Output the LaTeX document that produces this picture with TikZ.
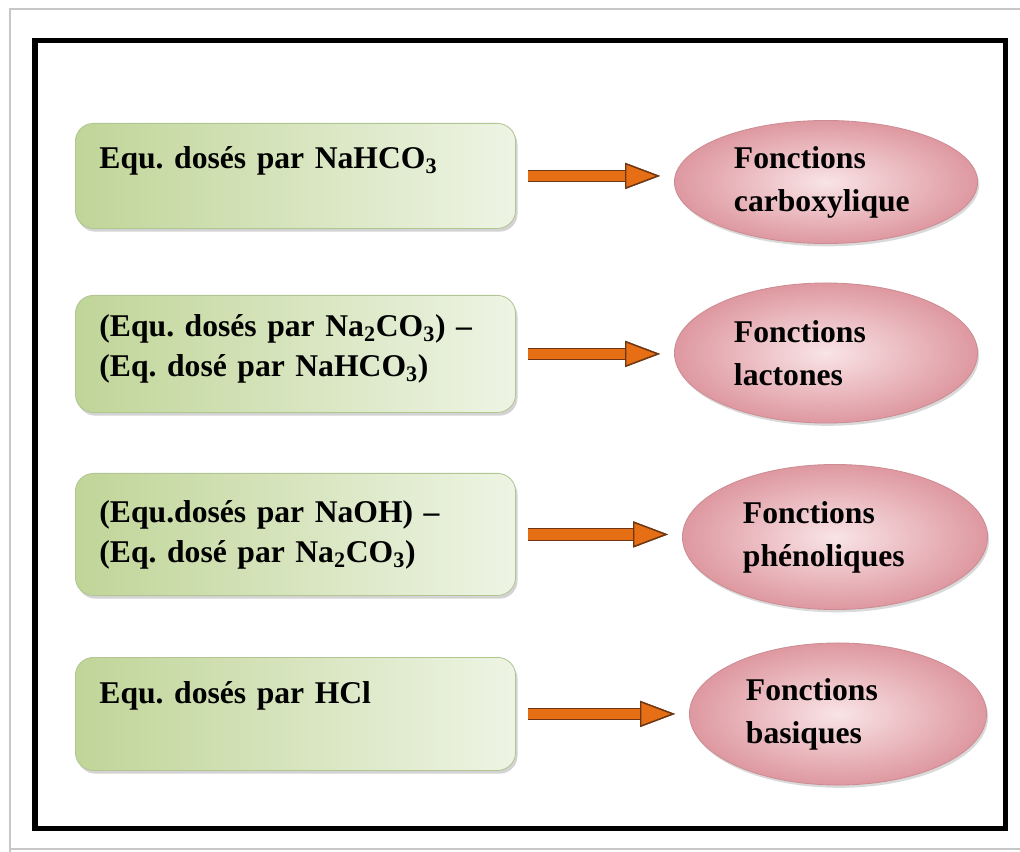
\documentclass[tikz,border=0pt]{standalone}
\usepackage{fontspec}
\setmainfont{Liberation Serif}[WordSpace=0.78]
\usetikzlibrary{shapes.geometric, arrows.meta, shadows}
\definecolor{cGreenD}{RGB}{192,213,152}
\definecolor{cGreenL}{RGB}{238,244,228}
\definecolor{cGreenE}{RGB}{178,198,148}
\definecolor{cPinkD}{RGB}{222,152,160}
\definecolor{cPinkL}{RGB}{249,228,230}
\definecolor{cPinkE}{RGB}{205,140,148}
\definecolor{cArrow}{RGB}{230,110,20}
\definecolor{cArrowE}{RGB}{110,55,20}
\tikzset{
	eqbox/.style ={rectangle, rounded corners=0.45cm, anchor=north west, text width=9.8cm, align=left, inner xsep=0.6cm, inner ysep=0pt, draw=cGreenE, line width=0.6pt, left color=cGreenD, right color=cGreenL, drop shadow={shadow xshift=0.05cm, shadow yshift=-0.08cm, opacity=0.35}, font=\fontsize{22.5}{28.5}\selectfont\bfseries\frenchspacing},
	fnell/.style ={ellipse, text width=4.6cm, align=left, inner sep=2pt, draw=cPinkE, line width=0.6pt, inner color=cPinkL, outer color=cPinkD, drop shadow={shadow xshift=0.04cm, shadow yshift=-0.07cm, opacity=0.3}, font=\fontsize{22.5}{30.5}\selectfont\bfseries},
	fnarrow/.style={line width=0.27cm, draw=cArrow, shorten <=0.3cm, shorten >=0.35cm, -{Triangle[length=0.875cm, width=0.65cm, fill=cArrow, color=cArrowE, line width=1pt]}, preaction={draw=cArrowE, line width=0.32cm}},
}
\begin{document}
\begin{tikzpicture}[x=0.025cm, y=-0.025cm]
	\useasboundingbox (0,0) rectangle (1020,852);
	% page edge and frame
	\draw[black!22, line width=0.04cm] (10,852) -- (10,9) -- (1020,9);
	\draw[black!22, line width=0.04cm] (10,849) -- (1020,849);
	\draw[line width=0.125cm] (35,41) rectangle (1005,828);
	% titrations
	\node[eqbox, text height=1.125cm, text depth=1.5cm] (eq1) at (75,123) {Equ. dosés par NaHCO\textsubscript{3}};
	\node[eqbox, text height=1.025cm, text depth=1.9cm] (eq2) at (75,295) {(Equ. dosés par Na\textsubscript{2}CO\textsubscript{3}) --\\(Eq. dosé par NaHCO\textsubscript{3})};
	\node[eqbox, text height=1.225cm, text depth=1.825cm] (eq3) at (75,473) {(Equ.dosés par NaOH) --\\(Eq. dosé par Na\textsubscript{2}CO\textsubscript{3})};
	\node[eqbox, text height=1.15cm, text depth=1.675cm] (eq4) at (75,657) {Equ. dosés par HCl};
	% surface functions
	\node[fnell, minimum width=7.575cm, minimum height=3.075cm] (fn1) at (826,182) {Fonctions\\carboxylique};
	\node[fnell, minimum width=7.575cm, minimum height=3.5cm] (fn2) at (826,353) {Fonctions\\lactones};
	\node[fnell, minimum width=7.625cm, minimum height=3.625cm] (fn3) at (835,537) {Fonctions\\phénoliques};
	\node[fnell, minimum width=7.425cm, minimum height=3.55cm] (fn4) at (838,714) {Fonctions\\basiques};
	\foreach \i in {1,...,4}
		\draw[fnarrow] (eq\i.east) -- (eq\i.east -| fn\i.west);
\end{tikzpicture}
\end{document}
